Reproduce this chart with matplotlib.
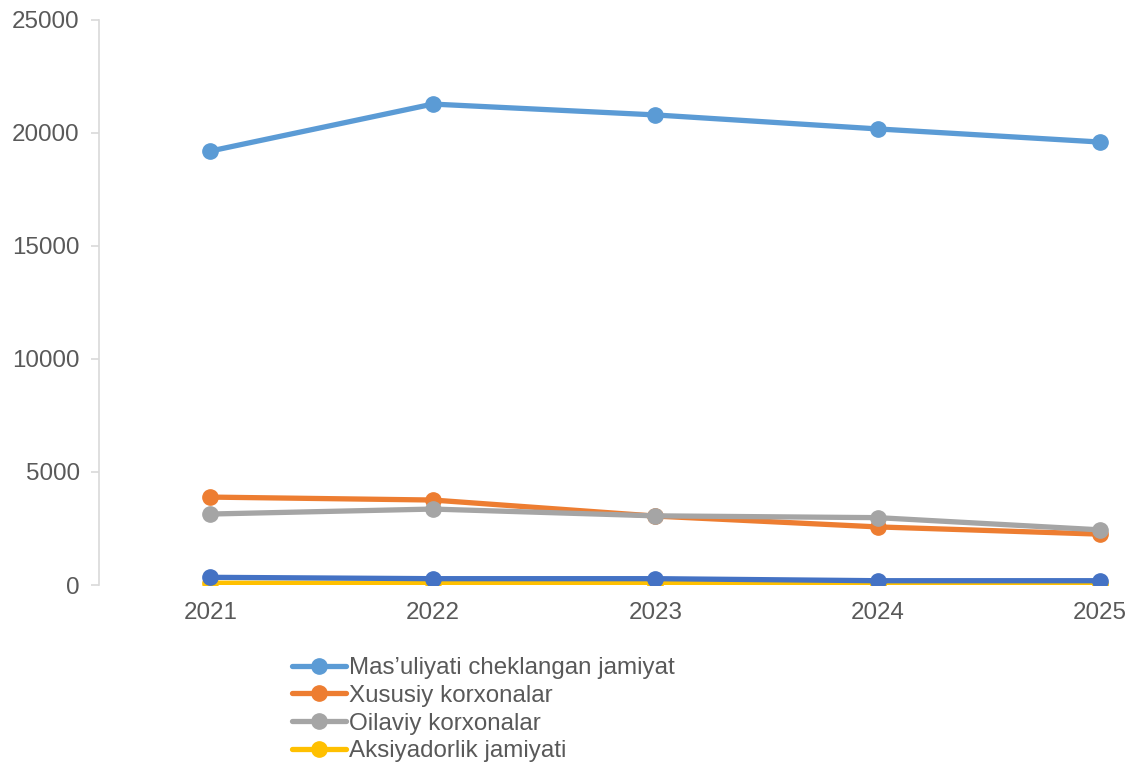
import matplotlib
matplotlib.use("Agg")
import matplotlib.pyplot as plt

plt.rcParams["font.family"] = ["Liberation Sans", "DejaVu Sans"]

years = ["2021", "2022", "2023", "2024", "2025"]
mchj = [19200, 21280, 20800, 20180, 19600]
xususiy = [3890, 3760, 3050, 2570, 2250]
oilaviy = [3140, 3360, 3060, 2980, 2440]
aksiyadorlik = [80, 70, 65, 60, 60]
boshqa = [340, 280, 280, 190, 190]

series = [
    ("Mas\u2019uliyati cheklangan jamiyat", mchj, "#5B9BD5"),
    ("Xususiy korxonalar", xususiy, "#ED7D31"),
    ("Oilaviy korxonalar", oilaviy, "#A5A5A5"),
    ("Aksiyadorlik jamiyati", aksiyadorlik, "#FFC000"),
    ("_nolegend_", boshqa, "#4472C4"),
]

text_color = "#595959"
fs = 17.4

fig = plt.figure(figsize=(11.34, 7.67), dpi=100)
ax = fig.add_axes([99 / 1134, 1 - 585 / 767, 1112.5 / 1134, 565 / 767])

x = list(range(len(years)))
for label, values, color in series:
    ax.plot(x, values, color=color, linewidth=3.8, marker="o", markersize=11,
            label=label, solid_capstyle="round")

ax.set_xlim(-0.5, len(years) - 0.5)
ax.set_ylim(0, 25000)
ax.set_yticks(range(0, 25001, 5000))
ax.set_xticks(x)
ax.set_xticklabels(years)

for side in ["top", "right", "bottom"]:
    ax.spines[side].set_visible(False)
ax.spines["left"].set_color("#D9D9D9")
ax.spines["left"].set_linewidth(1.2)
ax.tick_params(axis="y", length=6, width=1.2, color="#D9D9D9", labelsize=fs,
               labelcolor=text_color, pad=8)
ax.tick_params(axis="x", length=0, labelsize=fs, labelcolor=text_color, pad=12)

fig.legend(loc="upper left", bbox_to_anchor=(292 / 1134, 1 - 657 / 767),
           frameon=False, fontsize=fs, labelcolor=text_color,
           handlelength=2.25, handletextpad=0.1, labelspacing=0.24,
           borderpad=0, borderaxespad=0)

fig.savefig("out.png", dpi=100)
